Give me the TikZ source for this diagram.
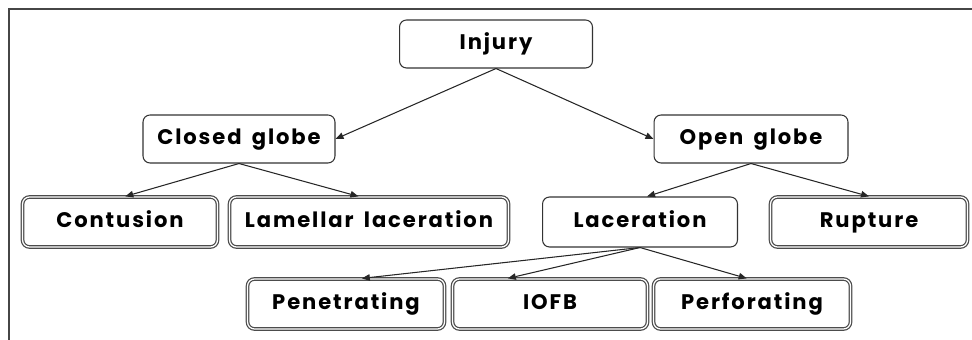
\documentclass[tikz,border=0pt]{standalone}
\usepackage{fontspec}
\setmainfont{Poppins}[LetterSpace=9,WordSpace=1.6]
\usepackage{tikz}
\usetikzlibrary{arrows.meta}
\definecolor{frame}{RGB}{70,70,70}
\tikzset{
  box/.style={draw=black!80,line width=0.6pt,rounded corners=4pt,fill=white,
              minimum height=0.96cm,text height=1.6ex,text depth=0.4ex,
              font=\fontsize{12}{14}\selectfont\bfseries},
  dbox/.style={box,draw=black!70,double=white,double distance=0.7pt,line width=0.7pt,
               minimum height=1.0cm},
  link/.style={-{Triangle[length=0.16cm,width=0.13cm]},line width=0.6pt,black!85}
}
\begin{document}
\begin{tikzpicture}[x=0.02cm,y=-0.02cm]
\useasboundingbox (0,0) rectangle (972,340);
% frame
\draw[frame,line width=0.6pt] (9,340) -- (9,9) -- (972,9);
% top levels
\node[box,minimum width=3.86cm] (injury) at (496,44) {Injury};
\node[box,minimum width=3.84cm] (closed) at (239,139) {Closed globe};
\node[box,minimum width=3.88cm] (open) at (751,139) {Open globe};
% third row
\node[dbox,minimum width=3.9cm] (contusion) at (120,222) {Contusion};
\node[dbox,minimum width=5.58cm] (lamellar) at (369,222) {Lamellar laceration};
\node[box,minimum width=3.9cm,minimum height=1.0cm] (laceration) at (640,222) {Laceration};
\node[dbox,minimum width=3.94cm] (rupture) at (869,222) {Rupture};
% bottom row
\node[dbox,minimum width=3.94cm] (penetrating) at (346,304) {Penetrating};
\node[dbox,minimum width=3.9cm] (iofb) at (550,304) {IOFB};
\node[dbox,minimum width=3.94cm] (perforating) at (752,304) {Perforating};
% arrows
\draw[link] (injury.south) -- (closed.east);
\draw[link] (injury.south) -- (open.west);
\draw[link] (closed.south) -- ([xshift=3]contusion.north);
\draw[link] (closed.south) -- ([xshift=-6]lamellar.north);
\draw[link] (open.south) -- ([xshift=4]laceration.north);
\draw[link] (open.south) -- (rupture.north);
\draw[link] (laceration.south) -- ([xshift=9]penetrating.north);
\draw[link] (laceration.south) -- ([xshift=-24]iofb.north);
\draw[link] (laceration.south) -- ([xshift=-3]perforating.north);
\end{tikzpicture}
\end{document}
